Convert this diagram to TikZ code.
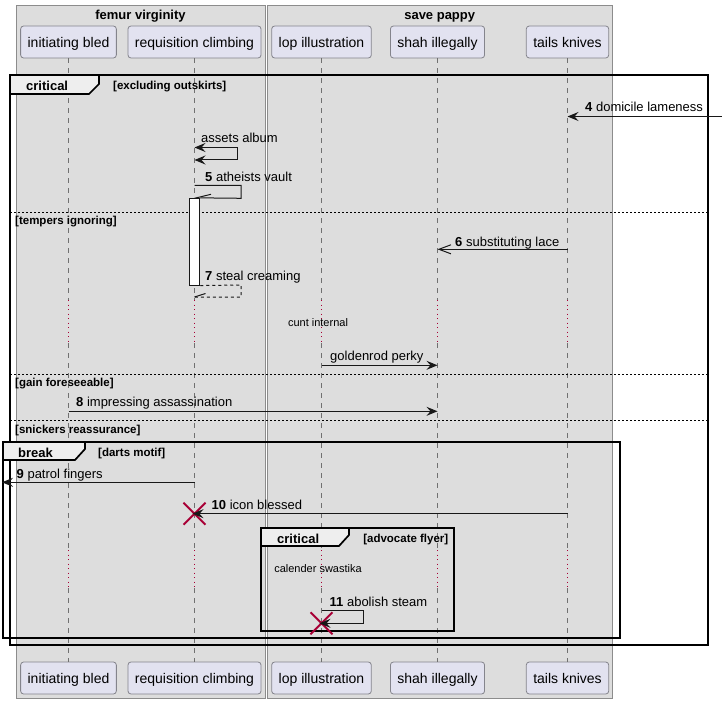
\documentclass[tikz,border=0pt]{standalone}
\usepackage{fontspec}
\setmainfont{Liberation Sans}
\usetikzlibrary{arrows.meta,shapes.misc}

\definecolor{grpfill}{HTML}{DDDDDD}
\definecolor{grpline}{HTML}{8C8C8C}
\definecolor{partfill}{HTML}{E2E2F0}
\definecolor{partline}{HTML}{84848C}
\definecolor{lifecol}{HTML}{707070}
\definecolor{tabfill}{HTML}{EEEEEE}
\definecolor{plumred}{HTML}{A80036}
\definecolor{inkcol}{HTML}{181818}

\tikzset{
  grp/.style={draw=grpline, fill=grpfill, line width=1pt},
  grptitle/.style={font=\fontsize{13}{15}\selectfont\bfseries, inner sep=0pt, text height=9.5pt, text depth=2.7pt, yshift=-1.5pt},
  part/.style={draw=partline, fill=partfill, rounded corners=3pt, minimum height=32pt,
               inner xsep=7pt, inner ysep=0pt, font=\fontsize{14}{16}\selectfont, line width=0.8pt,
               text height=12.2pt, text depth=0.9pt},
  life/.style={draw=lifecol, dash pattern=on 5pt off 5pt, line width=0.8pt},
  delayline/.style={draw=plumred, dash pattern=on 1pt off 3.5pt, line width=1pt},
  frm/.style={draw=black, line width=1.7pt},
  tabshape/.style={draw=black, fill=tabfill, line width=1.7pt, line join=miter},
  tabtxt/.style={font=\fontsize{13}{15}\selectfont\bfseries, inner sep=0pt, anchor=west, text height=9.5pt, text depth=2.7pt, yshift=-2pt},
  cond/.style={font=\fontsize{11.5}{13}\selectfont\bfseries, inner sep=0pt, anchor=west, text height=8.4pt, text depth=2.4pt, yshift=-1.5pt},
  sep/.style={draw=black, dash pattern=on 2pt off 2pt, line width=0.8pt},
  msg/.style={draw=inkcol, line width=1pt},
  dmsg/.style={draw=inkcol, line width=1pt, dash pattern=on 3pt off 3pt},
  lbl/.style={font=\fontsize{13}{15}\selectfont, inner sep=0pt, anchor=west, text height=9.5pt, text depth=2.7pt, yshift=-2pt},
  delaytxt/.style={font=\fontsize{11}{13}\selectfont, inner sep=0pt, text height=8pt, text depth=2.3pt, yshift=-1.5pt},
  head/.style={-{Stealth[length=11pt,width=9pt,inset=4pt]}},
  bothheads/.style={{Stealth[length=11pt,width=9pt,inset=4pt]}-{Stealth[length=11pt,width=9pt,inset=4pt]}},
  openhead/.style={-{Straight Barb[length=12pt,width=9pt,line width=1pt]}},
  actbar/.style={draw=inkcol, fill=white, line width=1pt, minimum width=10.5pt, minimum height=86.7pt, inner sep=0pt},
  destroy/.style={cross out, draw=plumred, line width=2pt, minimum size=20pt, inner sep=0pt},
}

\begin{document}
\begin{tikzpicture}[x=1pt,y=-1pt]
\useasboundingbox (0,0) rectangle (722,703);

% participant boxes
\draw[grp] (16,6) rectangle (265,698);
\draw[grp] (267,6) rectangle (612,698);
\node[grptitle] (g1) at (140.5,15) {femur virginity};
\node[grptitle] (g2) at (439.7,15) {save pappy};

% participants, top and bottom
\node[part] (pA) at (68.5,42) {initiating bled};
\node[part] (pB) at (194.5,42) {requisition climbing};
\node[part] (pC) at (321.5,42) {lop illustration};
\node[part] (pD) at (437.5,42) {shah illegally};
\node[part] (pE) at (567.5,42) {tails knives};
\node[part] (qA) at (68.5,678) {initiating bled};
\node[part] (qB) at (194.5,678) {requisition climbing};
\node[part] (qC) at (321.5,678) {lop illustration};
\node[part] (qD) at (437.5,678) {shah illegally};
\node[part] (qE) at (567.5,678) {tails knives};

% lifelines, dotted through the two delays
\coordinate (d1top) at (0,300);
\coordinate (d1bot) at (0,343);
\coordinate (d2top) at (0,550);
\coordinate (d2bot) at (0,588);
\foreach \p in {A,B,C,D,E} {
  \draw[life] (p\p.south) -- (p\p |- d1top);
  \draw[delayline] (p\p |- d1top) -- (p\p |- d1bot);
  \draw[life] (p\p |- d1bot) -- (p\p |- d2top);
  \draw[delayline] (p\p |- d2top) -- (p\p |- d2bot);
  \draw[life] (p\p |- d2bot) -- (q\p.north);
}

% outer critical frame with its else parts
\draw[frm] (10,75) rectangle (708,645);
\draw[tabshape] (10,75) -- (99,75) -- (99,84) -- (89,94) -- (10,94) -- cycle;
\node[tabtxt] (t1) at (26,85) {critical};
\node[cond] (c1) at (113,85) {[excluding outskirts]};
\draw[sep] (10,212) -- (708,212);
\node[cond] (c2) at (15,220) {[tempers ignoring]};
\draw[sep] (10,374.3) -- (708,374.3);
\node[cond] (c3) at (15,382) {[gain foreseeable]};
\draw[sep] (10,420.7) -- (708,420.7);
\node[cond] (c4) at (15,428.5) {[snickers reassurance]};

% break frame
\draw[frm] (3,442) rectangle (620,638);
\draw[tabshape] (3,442) -- (85,442) -- (85,449) -- (75,460) -- (3,460) -- cycle;
\node[tabtxt] (t2) at (18,452) {break};
\node[cond] (c5) at (98,452) {[darts motif]};

% inner critical frame
\draw[frm] (261,528) rectangle (454,631);
\draw[tabshape] (261,528) -- (349,528) -- (349,535) -- (339,546) -- (261,546) -- cycle;
\node[tabtxt] (t3) at (277,538) {critical};
\node[cond, anchor=east] (c6) at (448.5,538) {[advocate flyer]};

% message 4: incoming from the right
\coordinate (m4) at (722,116.5);
\draw[msg,head] (m4) -- (pE |- m4);
\node[lbl] (l4) at (585,106.5) {\textbf{4} domicile lameness};

% assets album: self message with heads on both ends
\coordinate (m2a) at (237,147.5);
\coordinate (m2b) at (237,160);
\draw[msg,bothheads] (pB |- m2a) -- (m2a) -- (m2b) -- (pB |- m2b);
\node[lbl] (l2) at (201,137.5) {assets album};

% message 5: self message opening the activation
\node[actbar] (act) at (194.5,241.7) {};
\coordinate (m5a) at (241,185.5);
\coordinate (m5b) at (241,198.3);
\draw[msg] (pB |- m5a) -- (m5a) -- (m5b) -- (act.north east);
\draw[msg] (pB |- m5b) -- ++(16.5,-4);
\node[lbl] (l5) at (205,176.5) {\textbf{5} atheists vault};

% message 6
\coordinate (m6) at (0,249.3);
\draw[msg,openhead] (pE |- m6) -- (pD |- m6);
\node[lbl] (l6) at (455,241) {\textbf{6} substituting lace};

% message 7: dashed return from the activation
\coordinate (m7a) at (241,285);
\coordinate (m7b) at (241,297);
\draw[dmsg] (act.south east) -- (m7a) -- (m7b) -- (pB |- m7b);
\draw[msg] (pB |- m7b) -- ++(11,-3.5);
\node[lbl] (l7) at (205,275.5) {\textbf{7} steal creaming};

% first delay
\node[delaytxt] (dl1) at (318,322) {cunt internal};

% goldenrod perky
\coordinate (m8g) at (0,365.3);
\draw[msg,head] (pC |- m8g) -- (pD |- m8g);
\node[lbl] (lg) at (330,355.5) {goldenrod perky};

% message 8
\coordinate (m8) at (0,411.3);
\draw[msg,head] (pA |- m8) -- (pD |- m8);
\node[lbl] (l8) at (76,401.5) {\textbf{8} impressing assassination};

% message 9: leaving to the left
\coordinate (m9) at (2,482.3);
\draw[msg,head] (pB |- m9) -- (m9);
\node[lbl] (l9) at (16.5,473.5) {\textbf{9} patrol fingers};

% message 10 with destruction
\coordinate (m10) at (0,513.7);
\node[destroy] (x1) at (pB |- m10) {};
\draw[msg,head,shorten >=-2pt] (pE |- m10) -- (x1.center);
\node[lbl] (l10) at (211.5,504) {\textbf{10} icon blessed};

% second delay
\node[delaytxt] (dl2) at (318,568) {calender swastika};

% message 11: self message ending in destruction
\coordinate (m11a) at (363.3,610);
\coordinate (m11b) at (363.3,623.3);
\node[destroy] (x2) at (pC |- m11b) {};
\draw[msg,head,shorten >=-2pt] (pC |- m11a) -- (m11a) -- (m11b) -- (x2.center);
\node[lbl] (l11) at (329.5,601) {\textbf{11} abolish steam};
\end{tikzpicture}
\end{document}
